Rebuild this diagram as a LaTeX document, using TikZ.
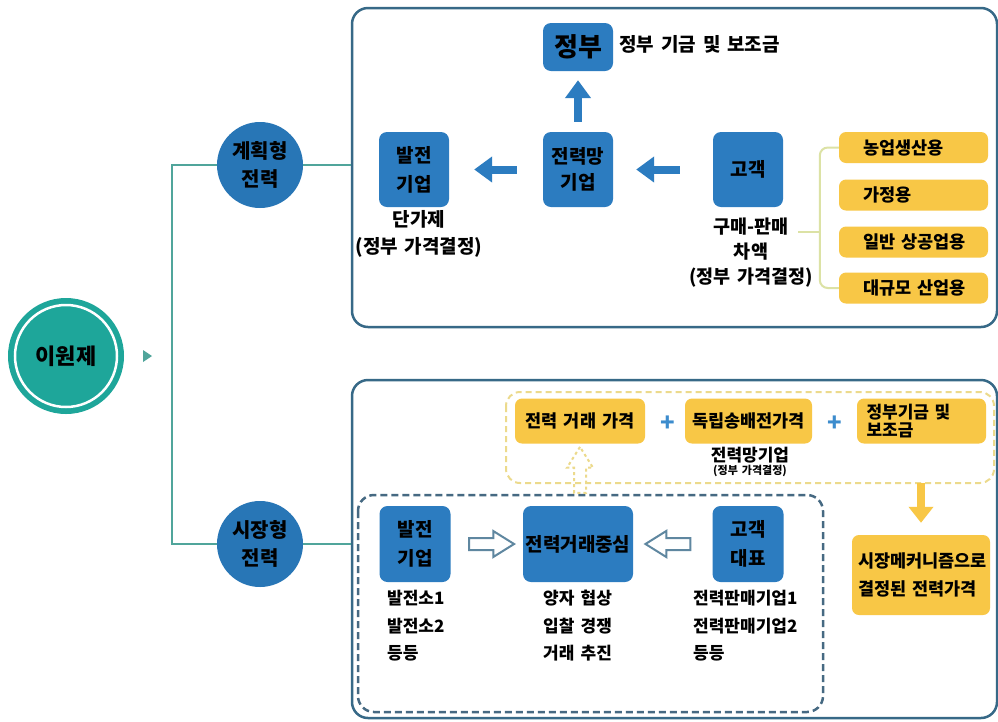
\documentclass[tikz,border=0pt]{standalone}
\usepackage{fontspec}
\setmainfont{Noto Sans CJK KR}[WordSpace=1.6]
\usepackage{xcolor}
\usepackage{tikz}
\usetikzlibrary{shapes.arrows, arrows.meta, calc}
\definecolor{planBlue}{RGB}{44,124,192}
\definecolor{kindBlue}{RGB}{40,118,182}
\definecolor{dualTeal}{RGB}{30,166,154}
\definecolor{lineTeal}{RGB}{80,165,155}
\definecolor{panelEdge}{RGB}{55,105,135}
\definecolor{frameBlue}{RGB}{70,105,130}
\definecolor{priceYellow}{RGB}{248,199,70}
\definecolor{dashYellow}{RGB}{236,218,140}
\definecolor{plusBlue}{RGB}{60,140,205}
\definecolor{bracketGreen}{RGB}{220,226,165}
\definecolor{hollowEdge}{RGB}{95,135,160}

\begin{document}
\begin{tikzpicture}[x=1pt, y=-1pt,
		bluebox/.style={fill=planBlue, rounded corners=8pt, inner sep=0pt, align=center,
			font=\fontsize{19}{29}\selectfont\bfseries},
		yellowbox/.style={fill=priceYellow, rounded corners=7pt, inner sep=0pt,
			font=\fontsize{17.5}{20}\selectfont\bfseries},
		kindnode/.style={circle, fill=kindBlue, minimum size=86pt, inner sep=0pt, align=center,
			font=\fontsize{20}{28}\selectfont\bfseries},
		panel/.style={draw=panelEdge, line width=2.5pt, rounded corners=16pt, inner sep=0pt},
		note/.style={font=\fontsize{17}{27.5}\selectfont\bfseries, inner sep=0pt},
		bignote/.style={font=\fontsize{19}{27}\selectfont\bfseries, inner sep=0pt},
		treeline/.style={draw=lineTeal, line width=2pt},
		fatarrow/.style={draw=planBlue, line width=8pt, -{Triangle[width=25pt,length=18pt]}},
		hollowarrow/.style={single arrow, draw=hollowEdge, line width=2pt, fill=white,
			minimum height=45pt, text height=0pt, text depth=0pt, inner xsep=0pt, inner ysep=5pt,
			single arrow head extend=7pt, single arrow tip angle=64}]
	\useasboundingbox (0,0) rectangle (998,721);
	\fill[white] (0,0) rectangle (998,721);
	% root and the two kinds
	\node[circle, fill=dualTeal, minimum size=116pt, inner sep=0pt,
		font=\fontsize{22}{24}\selectfont\bfseries] (dual) at (66,356) {이원제};
	\draw[white, line width=2.5pt] (dual.center) circle (51pt);
	\fill[lineTeal] (143,350) -- (152,356) -- (143,362) -- cycle;
	\node[kindnode] (plan) at (260,165) {계획형\\전력};
	\node[kindnode] (market) at (260,544) {시장형\\전력};
	\node[panel, minimum width=645pt, minimum height=319pt] (toppanel) at (674.5,167.5) {};
	\node[panel, minimum width=645pt, minimum height=338pt] (botpanel) at (674.5,549) {};
	\draw[treeline] (plan.west) -- ++(-45,0) |- (market.west);
	\draw[treeline] (plan.east) -- (plan.east -| toppanel.west);
	\draw[treeline] (market.east) -- (market.east -| botpanel.west);
	% panel 1: planned power
	\node[bluebox, minimum width=70pt, minimum height=48pt,
		font=\fontsize{26}{28}\selectfont\bfseries] (gov) at (578,47) {정부};
	\node[bignote, anchor=west] (govnote) at (619,44) {정부 기금 및 보조금};
	\node[bluebox, minimum width=70pt, minimum height=75pt] (gen1) at (414,169.5) {발전\\기업};
	\node[bluebox, minimum width=70pt, minimum height=75pt,
		font=\fontsize{19}{26}\selectfont\bfseries] (grid1) at (578,169.5) {전력망\\기업};
	\node[bluebox, minimum width=70pt, minimum height=75pt] (cust1) at (748,169.5) {고객};
	\draw[fatarrow, shorten <=10pt, shorten >=9pt] (grid1) -- (gov);
	\draw[fatarrow, shorten <=26pt, shorten >=25pt] (grid1.west) -- (gen1.east);
	\draw[fatarrow, shorten <=33pt, shorten >=23pt] (cust1.west) -- (grid1.east);
	\node[bignote, align=center] (tariff) at (419,234) {단가제\\(정부 가격결정)};
	\node[bignote, align=center, font=\fontsize{18.5}{25}\selectfont\bfseries] (margin) at (751,253)
	{구매-판매\\차액\\(정부 가격결정)};
	\node[yellowbox, minimum width=149pt, minimum height=31pt, text width=100pt] (farm) at (913.5,147.5) {농업생산용};
	\node[yellowbox, minimum width=149pt, minimum height=31pt, text width=100pt] (home) at (913.5,195) {가정용};
	\node[yellowbox, minimum width=149pt, minimum height=31pt, text width=100pt] (shop) at (913.5,242) {일반~상공업용};
	\node[yellowbox, minimum width=149pt, minimum height=31pt, text width=100pt] (plant) at (913.5,288) {대규모~산업용};
	\coordinate (brk) at (820,232);
	\draw[bracketGreen, line width=2pt, rounded corners=8pt] (farm.west) -- ++(-19,0) |- (plant.west);
	\draw[bracketGreen, line width=2pt] (brk) -- ++(-22,0);
	% panel 2: market power
	\draw[dashYellow, line width=2pt, dash pattern=on 6pt off 4pt, rounded corners=14pt]
	(506,392) rectangle (994,483);
	\node[yellowbox, minimum width=130pt, minimum height=45pt] (tprice) at (580,421) {전력 거래 가격};
	\node[yellowbox, minimum width=127pt, minimum height=45pt] (wire) at (748.5,421) {독립송배전가격};
	\node[yellowbox, minimum width=129pt, minimum height=45pt, text width=110pt, align=left,
		font=\fontsize{17}{18}\selectfont\bfseries] (fund) at (921.5,421) {정부기금~및\\보조금};
	\node[text=plusBlue, font=\fontsize{24}{24}\selectfont\bfseries] (plusa) at (668,424) {+};
	\node[text=plusBlue, font=\fontsize{24}{24}\selectfont\bfseries] (plusb) at (835,424) {+};
	\node[note] (grid2) at (750,455) {전력망기업};
	\node[font=\fontsize{11}{12}\selectfont\bfseries, inner sep=0pt] (grid2note) at (750,471) {(정부 가격결정)};
	\draw[frameBlue, line width=2.5pt, dash pattern=on 7pt off 4pt, rounded corners=16pt]
	(358,495) rectangle (823,712);
	\node[hollowarrow, draw=dashYellow, fill=none, dashed, minimum height=46pt, rotate=90] (uparrow)
	at ($(tprice.south)+(0,31)$) {};
	\node[bluebox, minimum width=71pt, minimum height=76pt] (gen2) at (415,544) {발전\\기업};
	\node[bluebox, minimum width=110pt, minimum height=76pt] (hub) at (578,544) {전력거래중심};
	\node[bluebox, minimum width=71pt, minimum height=76pt] (rep) at (748,544) {고객\\대표};
	\node[hollowarrow] (toHub) at ($(gen2.east)!0.5!(hub.west)$) {};
	\node[hollowarrow, rotate=180] (fromRep) at ($(hub.east)!0.5!(rep.west)$) {};
	\node[note, anchor=west, align=left] (plants) at (387,626) {발전소1\\발전소2\\등등};
	\node[note, anchor=west, align=left] (deals) at (543,626) {양자 협상\\입찰 경쟁\\거래 추진};
	\node[note, anchor=west, align=left] (sellers) at (693,626) {전력판매기업1\\전력판매기업2\\등등};
	\node[yellowbox, minimum width=138pt, minimum height=80pt, text width=126pt, align=left,
		font=\fontsize{17.5}{28}\selectfont\bfseries] (mech) at (921,575)
	{시장메커니즘으로\\결정된~전력가격};
	\draw[draw=priceYellow, line width=8pt, -{Triangle[width=24pt,length=16pt]}, shorten >=12pt]
	(mech.north |- 0,483) -- (mech.north);
\end{tikzpicture}
\end{document}
